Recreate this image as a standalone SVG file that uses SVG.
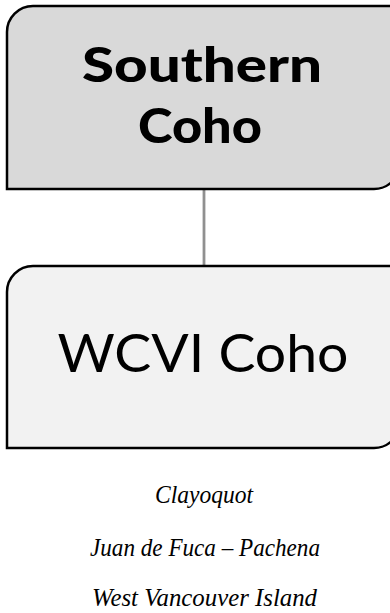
<svg xmlns="http://www.w3.org/2000/svg" width="390" height="613" viewBox="0 0 390 613">
  <style>
    .box { stroke: #000; stroke-width: 2.5; }
    .title { font-family: Lato, "Open Sans", sans-serif; font-weight: 900; font-size: 47px; fill: #000; text-anchor: middle; }
    .label { font-family: Lato, "Open Sans", sans-serif; font-weight: 400; font-size: 52px; fill: #000; text-anchor: middle; }
    .item { font-family: "Liberation Serif", "DejaVu Serif", serif; font-style: italic; font-size: 25px; fill: #000; text-anchor: middle; }
    .conn { stroke: #909090; stroke-width: 2.8; fill: none; }
  </style>
  <rect width="390" height="613" fill="#ffffff"/>
  <g id="connectors">
    <line class="conn" x1="204" y1="189" x2="204" y2="266"/>
  </g>
  <g id="node-southern-coho">
    <path class="box" fill="#d9d9d9" d="M7,32 A26,26 0 0 1 33,6 L400,6 L400,163 A26,26 0 0 1 374,189 L7,189 Z"/>
    <text class="title" x="202" y="82" textLength="240" lengthAdjust="spacingAndGlyphs">Southern</text>
    <text class="title" x="200" y="143" textLength="124" lengthAdjust="spacingAndGlyphs">Coho</text>
  </g>
  <g id="node-wcvi-coho">
    <path class="box" fill="#f2f2f2" d="M7,292 A26,26 0 0 1 33,266 L400,266 L400,422 A26,26 0 0 1 374,448 L7,448 Z"/>
    <text class="label" x="203" y="372" textLength="291" lengthAdjust="spacingAndGlyphs">WCVI Coho</text>
  </g>
  <g id="list">
    <text class="item" x="204" y="503" textLength="98" lengthAdjust="spacingAndGlyphs">Clayoquot</text>
    <text class="item" x="205" y="556" textLength="230" lengthAdjust="spacingAndGlyphs">Juan de Fuca – Pachena</text>
    <text class="item" x="204.5" y="606" textLength="225" lengthAdjust="spacingAndGlyphs">West Vancouver Island</text>
  </g>
</svg>
